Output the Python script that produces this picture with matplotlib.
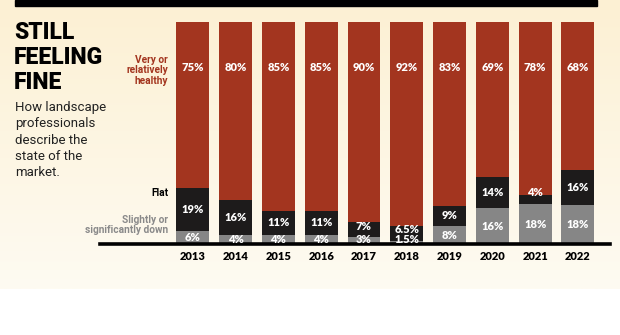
import numpy as np
import matplotlib
matplotlib.use('Agg')
import matplotlib.pyplot as plt
from matplotlib.patches import Rectangle
from matplotlib import transforms

years = ['2013', '2014', '2015', '2016', '2017', '2018', '2019', '2020', '2021', '2022']
healthy = [75, 80, 85, 85, 90, 92, 83, 69, 78, 68]
flat = [19, 16, 11, 11, 7, 6.5, 9, 14, 4, 16]
down = [6, 4, 4, 4, 3, 1.5, 8, 16, 18, 18]

RED = '#a3351f'
BLACK = '#1d1b1b'
GRAY = '#868686'
W, H = 620, 335

fig = plt.figure(figsize=(W / 100, H / 100), dpi=100)
fig.patch.set_facecolor('white')

def fx(x):
    return x / W

def fy(y):
    return 1 - y / H

# cream gradient panel
bg = fig.add_axes([0, fy(289), 1, 289 / H], zorder=-5)
grad = np.linspace(0, 1, 256).reshape(-1, 1)
top_c = np.array([252, 240, 211]) / 255
bot_c = np.array([254, 251, 242]) / 255
img = top_c[None, None, :] * (1 - grad[:, :, None]) + bot_c[None, None, :] * grad[:, :, None]
bg.imshow(img, aspect='auto', extent=(0, 1, 0, 1))
bg.axis('off')

# black rule at top
fig.add_artist(Rectangle((fx(15), fy(6)), fx(597) - fx(15), 6 / H,
                         transform=fig.transFigure, color='black', zorder=2))

ax = fig.add_axes([fx(100), fy(244), fx(610) - fx(100), (244 - 22) / H])
ax.set_facecolor('none')
x = np.arange(len(years))
tot = np.array(healthy) + np.array(flat) + np.array(down)
d = np.array(down) * 100 / tot
f = np.array(flat) * 100 / tot
h = np.array(healthy) * 100 / tot

bw = 0.77
ax.bar(x, d, bw, color=GRAY, edgecolor='none')
ax.bar(x, f, bw, bottom=d, color=BLACK, edgecolor='none')
ax.bar(x, h, bw, bottom=d + f, color=RED, edgecolor='none')

ax.set_xlim(-2.17, 9.75)
ax.set_ylim(0, 100)
for s in ['top', 'right', 'left']:
    ax.spines[s].set_visible(False)
ax.spines['bottom'].set_linewidth(2.6)
ax.spines['bottom'].set_color('black')
ax.set_yticks([])
ax.set_xticks(x)
ax.set_xticklabels(years, fontsize=8, fontweight='heavy', family='Lato')
ax.tick_params(axis='x', length=0, pad=5)

def pct(v):
    return f'{v:g}%'

lbl = dict(color='white', fontsize=8, fontweight='heavy', family='Lato',
           ha='center', va='center')
trans = transforms.blended_transform_factory(ax.transData, ax.transAxes)
for i in range(len(years)):
    ax.text(x[i], 0.793, pct(healthy[i]), transform=trans, **lbl)
    fy_ = max(d[i] + f[i] / 2, d[i] + 5)
    ax.text(x[i], fy_, pct(flat[i]), **lbl)
    dy_ = max(d[i] / 2, 2)
    ax.text(x[i], dy_, pct(down[i]), **lbl)

# left panel text
fig.text(fx(14), fy(21), 'STILL\nFEELING\nFINE', ha='left', va='top',
         fontsize=16.5, fontweight='black', family='Roboto',
         linespacing=1.12, color='black')
fig.text(fx(15), fy(101), 'How landscape\nprofessionals\ndescribe the\nstate of the\nmarket.',
         ha='left', va='top', fontsize=9.5, family='Roboto',
         linespacing=1.33, color='#222222')

side = dict(ha='right', va='top', fontsize=7.3, fontweight='bold',
            family='Roboto', linespacing=1.05)
fig.text(fx(168), fy(55), 'Very or\nrelatively\nhealthy', color=RED, **side)
fig.text(fx(168), fy(188), 'Flat', color='black', **side)
fig.text(fx(168), fy(215), 'Slightly or\nsignificantly down', color='#8a8a8a', **side)

fig.savefig('out.png', dpi=100, facecolor=fig.get_facecolor())
